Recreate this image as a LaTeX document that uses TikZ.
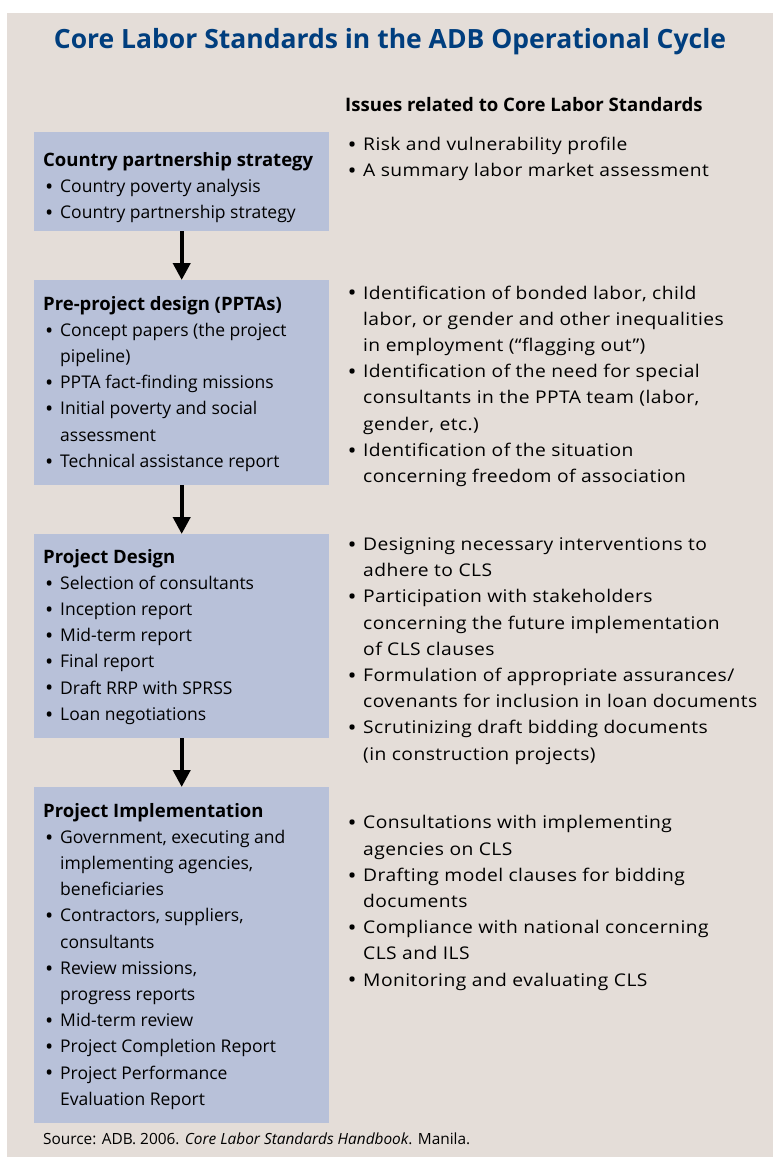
\documentclass[tikz,border=0pt]{standalone}
\usepackage{fontspec}
\setmainfont{Open Sans}
\newfontfamily\widefont[FakeStretch=1.1,LetterSpace=2.5]{Open Sans}
\usetikzlibrary{arrows.meta}

\definecolor{pagebg}{RGB}{228,221,216}
\definecolor{stagefill}{RGB}{184,193,217}
\definecolor{titleblue}{RGB}{0,62,126}

\newlength{\bulw}
\newlength{\bulgap}
\newcommand{\bigbullet}{\raisebox{-1.8pt}{\scalebox{1.25}{\textbullet}}}
\newcommand{\bul}[1]{\makebox[\bulw][l]{\hspace{\bulgap}\bigbullet}#1}
\newcommand{\cont}[1]{\hspace*{\bulw}#1}
\newcommand{\bodyfont}{\fontsize{17.5pt}{26.2pt}\selectfont}
\newcommand{\stagehead}[1]{{\fontsize{18.5pt}{26.2pt}\selectfont\bfseries #1}}

\begin{document}
\begin{tikzpicture}[x=1pt,y=-1pt,
  stagebox/.style={fill=stagefill, draw=none, rectangle, anchor=north west,
    minimum width=295pt, inner sep=0pt},
  % multi-line blocks are placed by the baseline of their last line
  textblock/.style={anchor=base west, align=left, inner sep=0pt,
    font=\bodyfont, text=black},
  issueblock/.style={textblock, font=\widefont\bodyfont},
  flow/.style={line width=4pt, -{Triangle[width=17pt,length=17pt]}}]

\useasboundingbox (0,0) rectangle (773,1157);
\fill[pagebg] (7,13) rectangle (773,1157);

% title and column heading
\node[anchor=base, inner sep=0pt, text=titleblue,
  font=\bfseries\fontsize{26.5pt}{32pt}\selectfont] (title) at (390,48)
  {Core Labor Standards in the ADB Operational Cycle};
\node[anchor=base west, inner sep=0pt,
  font=\bfseries\fontsize{18.6pt}{24pt}\selectfont] (issues) at (345,111)
  {Issues related to Core Labor Standards};

% stage boxes
\node[stagebox, minimum height=99pt]  (b1) at (34,132) {};
\node[stagebox, minimum height=205pt] (b2) at (34,280) {};
\node[stagebox, minimum height=204pt] (b3) at (34,534) {};
\node[stagebox, minimum height=336pt] (b4) at (34,787) {};

\draw[flow] (b1.south) -- (b2.north);
\draw[flow] (b2.south) -- (b3.north);
\draw[flow] (b3.south) -- (b4.north);

% contents of the stage boxes
\setlength{\bulw}{17pt}
\setlength{\bulgap}{2pt}
\node[textblock] (t1) at (43,218.4) {%
  \stagehead{Country partnership strategy}\\
  \bul{Country poverty analysis}\\
  \bul{Country partnership strategy}};
\node[textblock] (t2) at (43,467.2) {%
  \stagehead{Pre-project design (PPTAs)}\\
  \bul{Concept papers (the project}\\
  \cont{pipeline)}\\
  \bul{PPTA fact-finding missions}\\
  \bul{Initial poverty and social}\\
  \cont{assessment}\\
  \bul{Technical assistance report}};
\node[textblock] (t3) at (43,720.2) {%
  \stagehead{Project Design}\\
  \bul{Selection of consultants}\\
  \bul{Inception report}\\
  \bul{Mid-term report}\\
  \bul{Final report}\\
  \bul{Draft RRP with SPRSS}\\
  \bul{Loan negotiations}};
\node[textblock] (t4) at (43,1105.2) {%
  \stagehead{Project Implementation}\\
  \bul{Government, executing and}\\
  \cont{implementing agencies,}\\
  \cont{beneficiaries}\\
  \bul{Contractors, suppliers,}\\
  \cont{consultants}\\
  \bul{Review missions,}\\
  \cont{progress reports}\\
  \bul{Mid-term review}\\
  \bul{Project Completion Report}\\
  \bul{Project Performance}\\
  \cont{Evaluation Report}};

% issues column
\setlength{\bulw}{16pt}
\setlength{\bulgap}{0.5pt}
\node[issueblock] (r1) at (347,176.5) {%
  \bul{Risk and vulnerability profile}\\
  \bul{A summary labor market assessment}};
\node[issueblock] (r2) at (347,482.4) {%
  \bul{Identification of bonded labor, child}\\
  \cont{labor, or gender and other inequalities}\\
  \cont{in employment (“flagging out”)}\\
  \bul{Identification of the need for special}\\
  \cont{consultants in the PPTA team (labor,}\\
  \cont{gender, etc.)}\\
  \bul{Identification of the situation}\\
  \cont{concerning freedom of association}};
\node[issueblock] (r3) at (347,760) {%
  \bul{Designing necessary interventions to}\\
  \cont{adhere to CLS}\\
  \bul{Participation with stakeholders}\\
  \cont{concerning the future implementation}\\
  \cont{of CLS clauses}\\
  \bul{Formulation of appropriate assurances/}\\
  \cont{covenants for inclusion in loan documents}\\
  \bul{Scrutinizing draft bidding documents}\\
  \cont{(in construction projects)}};
\node[issueblock] (r4) at (347,986) {%
  \bul{Consultations with implementing}\\
  \cont{agencies on CLS}\\
  \bul{Drafting model clauses for bidding}\\
  \cont{documents}\\
  \bul{Compliance with national concerning}\\
  \cont{CLS and ILS}\\
  \bul{Monitoring and evaluating CLS}};

% source line
\node[anchor=base west, inner sep=0pt,
  font=\fontsize{15.4pt}{18pt}\selectfont] (src) at (43,1144)
  {Source: ADB. 2006. \textit{Core Labor Standards Handbook}. Manila.};
\end{tikzpicture}
\end{document}
